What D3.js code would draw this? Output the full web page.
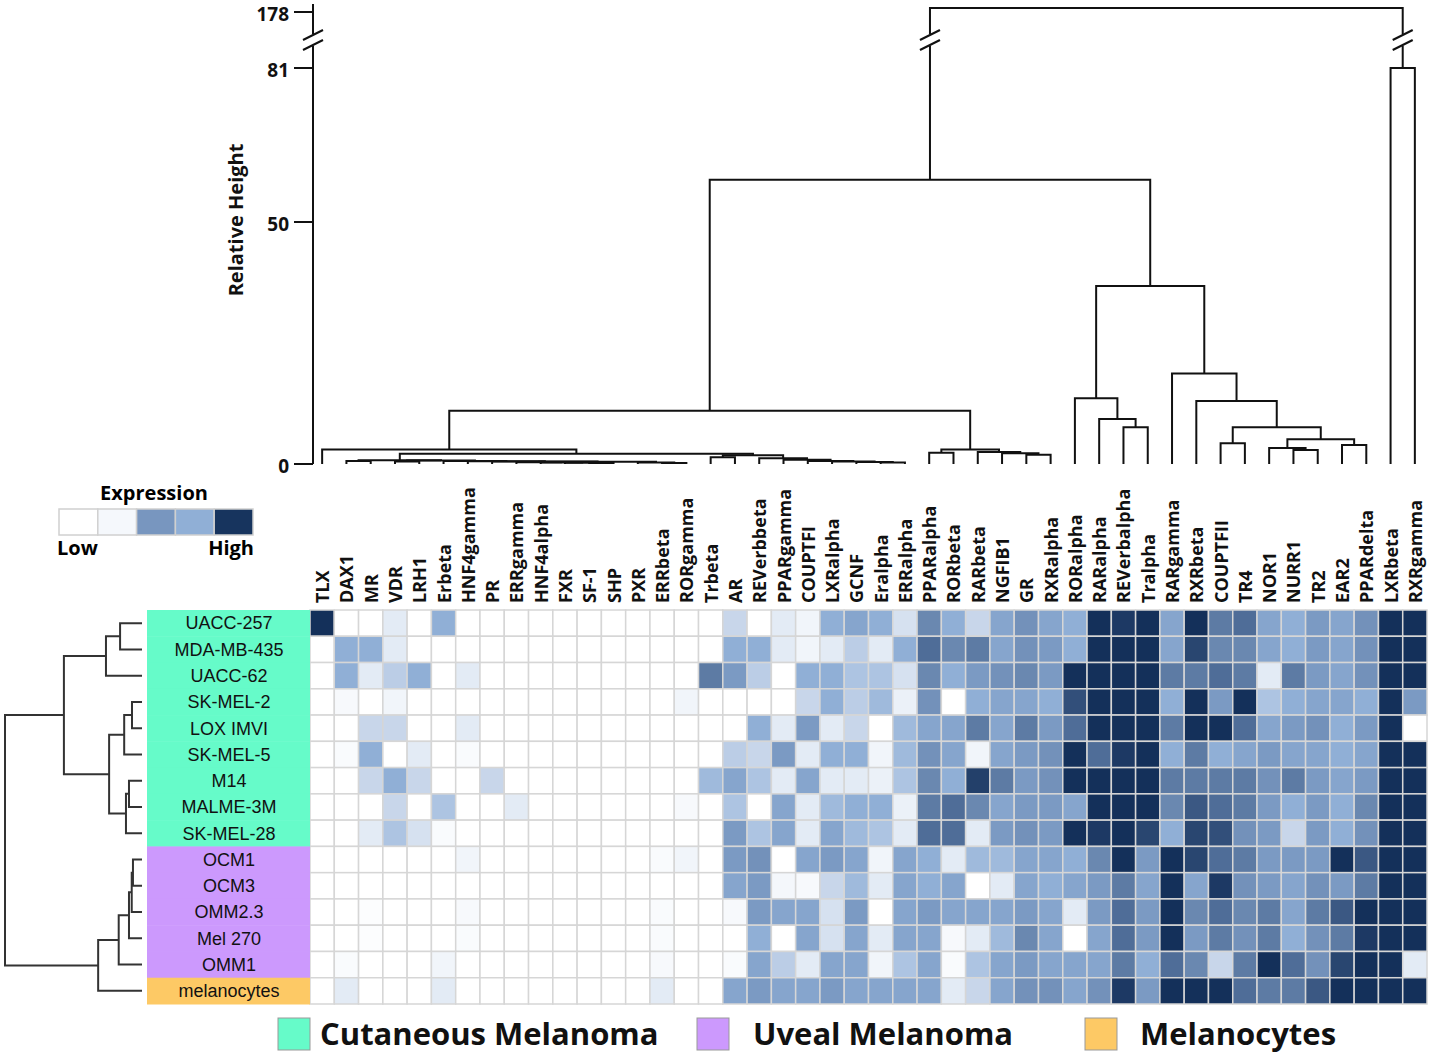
<!DOCTYPE html>
<html>
<head>
<meta charset="utf-8">
<script src="https://cdn.jsdelivr.net/npm/d3@7"></script>
<style>
body { margin: 0; background: #fff; }
svg { display: block; }
</style>
</head>
<body>
<div id="chart"></div>
<script>
// ---- data ----
const rowLabels = ["UACC-257", "MDA-MB-435", "UACC-62", "SK-MEL-2", "LOX IMVI", "SK-MEL-5", "M14",
    "MALME-3M", "SK-MEL-28", "OCM1", "OCM3", "OMM2.3", "Mel 270", "OMM1", "melanocytes"];
const rowGroup = [0, 0, 0, 0, 0, 0, 0, 0, 0, 1, 1, 1, 1, 1, 2];
const groupNames = ["Cutaneous Melanoma", "Uveal Melanoma", "Melanocytes"];
const groupColors = ["#66fbc9", "#cc99fd", "#fdc965"];

const colLabels = ["TLX", "DAX1", "MR", "VDR", "LRH1", "Erbeta", "HNF4gamma", "PR", "ERRgamma", "HNF4alpha",
    "FXR", "SF-1", "SHP", "PXR", "ERRbeta", "RORgamma", "Trbeta", "AR", "REVerbbeta", "PPARgamma", "COUPTFI",
    "LXRalpha", "GCNF", "Eralpha", "ERRalpha", "PPARalpha", "RORbeta", "RARbeta", "NGFIB1", "GR", "RXRalpha",
    "RORalpha", "RARalpha", "REVerbalpha", "Tralpha", "RARgamma", "RXRbeta", "COUPTFII", "TR4", "NOR1",
    "NURR1", "TR2", "EAR2", "PPARdelta", "LXRbeta", "RXRgamma"];

// expression level 0 (low) .. 9 (high), one row per cell line
const expression = [
    [9,0,0,1,0,4,0,0,0,0,0,0,0,0,0,0,0, 2,0,1,0.5,4,4.5,4,1.5,6,4,2,4.5,5.5,4.5, 4, 9,8.7,9,4.5,9,6.5,7,4.5,4,5,4.5,5.5,9,9],
    [0,4,4,1,0,0,0,0,0,0,0,0,0,0,0,0,0, 4,4,1,0.5,1,2.5,1,4,7,6,6.5,4.5,5.5,5, 4, 9,9,9,4.5,8.3,6,6,4.5,4,5,4.5,5.5,9,9],
    [0,4,1,2.5,4,0,1,0,0,0,0,0,0,0,0,0,6.5, 5,2.5,0,4,4,3,3,1.5,6,4,5,5.5,6,5, 9, 9,9,9,6.5,6.5,7,6.5,1,6.5,5,4.5,5.5,9,9],
    [0,0.3,0,0.5,0,0,0,0,0,0,0,0,0,0,0,0.5,0, 0,0,0,2,4,2.5,3.5,0.7,5.5,0,4,4.5,4.5,4, 8, 9,9,9,4,9,5,9,3,4,4.5,4.5,4,9,5],
    [0,0,2,2,0,0,1,0,0,0,0,0,0,0,0,0,0, 0,4,1,5,1,2,0,3.5,4.5,4.5,6.5,4.5,6.5,5, 7, 9,9,9,6.5,9,9,7,4.5,5,5.5,4,5,9,0],
    [0,0.2,4,0,1,0,0.2,0,0,0,0,0,0,0,0,0,0, 2.5,2,5,1,4,4,0.5,3.5,5.5,4.5,0.5,4.5,5,5.5, 9, 7,8.7,9,4,6.5,4,4.5,5,4.5,4.5,4,4.5,9,9],
    [0,0,2,4,2,0,0,2,0,0,0,0,0,0,0,0,3.5, 4.5,3,1,4.5,1,1,0.7,3,6,4,8.5,6.5,5,5.5, 9, 9,9,9,6.5,6.5,6.5,6.5,5.5,6.5,5,4.5,5,9,9],
    [0,0,0,2,0,3,0,0,1,0,0,0,0,0,0,0.3,0, 3,0,4.5,1,3.5,4,4,0.7,6.5,7,6,4.5,5,5, 4.5, 9,9,9,6,7.7,7,6.5,5,4,5,4,6,9,9],
    [0,0,1,3,1.5,0.2,0,0,0,0,0,0,0,0,0,0,0, 5,3,4.5,1,4.5,3.5,3,1,7,7,1,5,5.5,5, 9, 8.7,9,8.3,4,8.3,8,5.5,5,2,5,4,5.5,9,9],
    [0,0,0,0,0,0,0.5,0,0,0,0,0,0,0,0.2,0.5,0, 5,5.5,0,4.5,5,4.5,0.5,4.5,4,1,3.5,3.5,4.5,4.5, 4, 6,9,5,9,8.3,7,6.5,5,5,5,9,7.7,9,9],
    [0,0,0,0,0,0,0,0,0,0,0,0,0,0,0,0,0, 4.5,5,0.4,0.3,2,3.5,1,4.5,4,4.5,0,1,4.5,4, 4.5, 5,6.5,4.5,9,4.5,8.7,5.5,5,4.5,5.5,5,6.5,9,9],
    [0,0,0.1,0,0,0,0.3,0,0,0,0,0,0,0,0.2,0,0, 0.3,5,4.5,4.5,1.5,5,0,4.5,5,4.5,4.5,4.5,5,4.5, 1, 5,7,5,9,6,7,6,6.5,4.5,6.5,7.7,9,9,9],
    [0,0,0.1,0,0,0,0.2,0,0,0,0,0,0,0,0.2,0,0, 0,4,0,4.5,1.5,4.5,1,4.5,4.5,0.3,1,3.5,6,4.5, 0, 4.5,7,5,9,5,6.5,5.5,6.5,4,5.5,6.5,8.7,9,9],
    [0,0.2,0,0,0,0.5,0,0,0,0,0,0,0,0,0.3,0,0, 0.2,4.5,2.5,1,4.5,4.5,0.5,3,4.5,0.2,3,4.5,5,4.5, 4.5, 4.5,6.5,4,7,6,2,6.5,9,7,5.5,8.3,9,9,1],
    [0,1,0,0,0,1,0,0,0,0,0,0,0,0,1,0,0, 4.5,5,4.5,4.5,5,4.5,4.5,4.5,4.5,1,2,4.5,5.5,5.5, 4.5, 5.5,8.7,5,9,9,9,7,6.5,6.5,7.7,9,9,9,9]
];

// column clustering: [left, right, height]; ids >= 46 are earlier merges
const colMerges = [
    [11, 12, 0.2], [10, 46, 0.25], [9, 47, 0.3], [8, 48, 0.35], [14, 15, 0.2], [13, 50, 0.3],
    [49, 51, 0.45], [7, 52, 0.5], [6, 53, 0.55], [5, 54, 0.6], [3, 4, 0.5], [56, 55, 0.7],
    [1, 2, 0.6], [58, 57, 0.8],
    [23, 24, 0.3], [22, 60, 0.4], [21, 61, 0.5], [20, 62, 0.6], [19, 63, 0.9], [18, 64, 1.2],
    [16, 17, 1.4], [66, 65, 1.8], [59, 67, 2.1], [0, 68, 3.0],
    [29, 30, 1.9], [28, 70, 2.2], [27, 71, 2.5], [25, 26, 2.3], [73, 72, 3.0],
    [69, 74, 11.0],
    [33, 34, 7.6], [32, 76, 9.3], [31, 77, 13.6],
    [40, 41, 2.9], [39, 79, 3.3], [42, 43, 3.9], [80, 81, 5.1], [37, 38, 4.3], [83, 82, 7.6],
    [36, 84, 13.0], [35, 85, 18.7], [78, 86, 36.8], [75, 87, 58.5],
    [44, 45, 81], [88, 89, 178]
];
const heightTicks = [0, 50, 81, 178];

// row clustering: [left, right, height]; ids >= 15 are earlier merges
const rowMerges = [
    [0, 1, 0.16], [15, 2, 0.263], [3, 4, 0.073], [17, 5, 0.13], [6, 7, 0.095], [19, 8, 0.117],
    [18, 20, 0.24], [16, 21, 0.57], [9, 10, 0.066], [23, 11, 0.075], [24, 12, 0.095],
    [25, 13, 0.17], [26, 14, 0.32], [22, 27, 1.0]
];

const shadeSteps = [0, 1, 2, 3, 4, 5, 6, 7, 8, 9];
const shadeColors = ["#ffffff", "#e3ebf5", "#c8d6ea", "#adc4e2", "#90afd6", "#7b9ac3", "#6a88b0",
    "#4f6d98", "#324f7a", "#14305a"];
const legendShades = ["#ffffff", "#f5f8fc", "#7896bf", "#90afd6", "#17345e"];

// ---- layout ----
const W = 1431, H = 1057;
const svg = d3.select("#chart").append("svg").attr("width", W).attr("height", H);

const color = d3.scaleLinear().domain(shadeSteps).range(shadeColors);
const x = d3.scaleBand().domain(d3.range(colLabels.length)).range([310, 1427]);
const y = d3.scaleBand().domain(d3.range(rowLabels.length)).range([610, 1004]);
const yH = d3.scaleLinear().domain([0, 50, 81, 178]).range([464, 222, 68, 8]);
const xRow = d3.scaleLinear().domain([0, 1]).range([142, 5]);

// heatmap cells
const cells = [];
expression.forEach((row, r) => row.forEach((v, c) => cells.push({ r, c, v })));
svg.append("g").selectAll("rect")
    .data(cells)
    .enter()
    .append("rect")
    .attr("x", d => x(d.c))
    .attr("y", d => y(d.r))
    .attr("width", x.bandwidth())
    .attr("height", y.bandwidth())
    .style("fill", d => color(d.v))
    .style("stroke", "#d6d6d6")
    .style("stroke-width", 1.5);

// row label boxes
svg.append("g").selectAll("rect")
    .data(rowLabels)
    .enter()
    .append("rect")
    .attr("x", 147)
    .attr("y", (d, i) => y(i))
    .attr("width", 310 - 147)
    .attr("height", y.bandwidth() + 0.5)
    .style("fill", (d, i) => groupColors[rowGroup[i]]);

svg.append("g").selectAll("text")
    .data(rowLabels)
    .enter()
    .append("text")
    .attr("x", 229)
    .attr("y", (d, i) => y(i) + y.bandwidth() / 2)
    .attr("dy", "0.35em")
    .attr("text-anchor", "middle")
    .style("font-family", "'Liberation Sans', Arial, sans-serif")
    .style("font-size", "18px")
    .style("fill", "#111")
    .text(d => d);

// column labels
svg.append("g").selectAll("text")
    .data(colLabels)
    .enter()
    .append("text")
    .attr("transform", (d, i) => `translate(${x(i) + x.bandwidth() / 2 + 7},603) rotate(-90)`)
    .attr("text-anchor", "start")
    .style("font-family", "'Open Sans', sans-serif")
    .style("font-weight", 700)
    .style("font-size", "18px")
    .style("fill", "#111")
    .text(d => d);

// dendrogram helper: returns positions/heights of every node
function layoutLinkage(merges, leafPos) {
    const pos = leafPos.slice();
    const hgt = leafPos.map(() => 0);
    merges.forEach(m => {
        pos.push((pos[m[0]] + pos[m[1]]) / 2);
        hgt.push(m[2]);
    });
    return { pos, hgt };
}

// column dendrogram
const colLayout = layoutLinkage(colMerges, colLabels.map((d, i) => x(i) + x.bandwidth() / 2));
const colTree = svg.append("g")
    .style("fill", "none")
    .style("stroke", "#111")
    .style("stroke-width", 2);
colTree.selectAll("path")
    .data(colMerges)
    .enter()
    .append("path")
    .attr("d", m => {
        const [a, b, h] = m;
        const xa = colLayout.pos[a], xb = colLayout.pos[b];
        return `M${xa},${yH(colLayout.hgt[a])}V${yH(h)}H${xb}V${yH(colLayout.hgt[b])}`;
    });

// axis
const axisX = 313;
const breakY = 40;
const axis = svg.append("g").style("stroke", "#111").style("stroke-width", 2);
axis.append("line").attr("x1", axisX).attr("x2", axisX).attr("y1", yH(178) - 4).attr("y2", yH(0));
axis.selectAll(".tick")
    .data(heightTicks)
    .enter()
    .append("line")
    .attr("x1", axisX - 19)
    .attr("x2", axisX)
    .attr("y1", d => yH(d) + (d === 178 ? 4 : 0))
    .attr("y2", d => yH(d) + (d === 178 ? 4 : 0));
svg.append("g").selectAll("text")
    .data(heightTicks)
    .enter()
    .append("text")
    .attr("x", axisX - 24)
    .attr("y", d => yH(d) + (d === 178 ? 6 : 2))
    .attr("dy", "0.35em")
    .attr("text-anchor", "end")
    .style("font-family", "'Open Sans', sans-serif")
    .style("font-weight", 700)
    .style("font-size", "19px")
    .style("fill", "#111")
    .text(d => d);

// axis breaks on the axis and on the two stems of the top merge
const rootMerge = colMerges[colMerges.length - 1];
const breakXs = [axisX, colLayout.pos[rootMerge[0]], colLayout.pos[rootMerge[1]]];
const brk = svg.append("g");
breakXs.forEach(bx => {
    brk.append("rect")
        .attr("x", bx - 4).attr("y", breakY - 6)
        .attr("width", 8).attr("height", 12)
        .style("fill", "#fff");
    [-5, 5].forEach(off => {
        brk.append("line")
            .attr("x1", bx - 10).attr("y1", breakY + off + 5)
            .attr("x2", bx + 10).attr("y2", breakY + off - 5)
            .style("stroke", "#111")
            .style("stroke-width", 2);
    });
});

svg.append("text")
    .attr("transform", "translate(243,220) rotate(-90)")
    .attr("text-anchor", "middle")
    .style("font-family", "'Open Sans', sans-serif")
    .style("font-weight", 700)
    .style("font-size", "20px")
    .style("fill", "#111")
    .text("Relative Height");

// row dendrogram
const rowLayout = layoutLinkage(rowMerges, rowLabels.map((d, i) => y(i) + y.bandwidth() / 2));
svg.append("g")
    .style("fill", "none")
    .style("stroke", "#333")
    .style("stroke-width", 2)
    .selectAll("path")
    .data(rowMerges)
    .enter()
    .append("path")
    .attr("d", m => {
        const [a, b, h] = m;
        const ya = rowLayout.pos[a], yb = rowLayout.pos[b];
        return `M${xRow(rowLayout.hgt[a])},${ya}H${xRow(h)}V${yb}H${xRow(rowLayout.hgt[b])}`;
    });

// expression legend
const leg = svg.append("g");
const legX = d3.scaleBand().domain(d3.range(legendShades.length)).range([59, 253]);
leg.selectAll("rect")
    .data(legendShades)
    .enter()
    .append("rect")
    .attr("x", (d, i) => legX(i))
    .attr("y", 509)
    .attr("width", legX.bandwidth())
    .attr("height", 26)
    .style("fill", d => d)
    .style("stroke", "#d0d0d0")
    .style("stroke-width", 1.5);
leg.append("text")
    .attr("x", 154).attr("y", 500)
    .attr("text-anchor", "middle")
    .style("font-family", "'Open Sans', sans-serif")
    .style("font-weight", 700)
    .style("font-size", "20px")
    .text("Expression");
leg.append("text")
    .attr("x", 57).attr("y", 555)
    .style("font-family", "'Open Sans', sans-serif")
    .style("font-weight", 700)
    .style("font-size", "20px")
    .text("Low");
leg.append("text")
    .attr("x", 254).attr("y", 555)
    .attr("text-anchor", "end")
    .style("font-family", "'Open Sans', sans-serif")
    .style("font-weight", 700)
    .style("font-size", "20px")
    .text("High");

// group legend
const groupBoxX = [278, 697, 1085];
const groupTextX = [320, 753, 1140];
const gl = svg.append("g").selectAll("g")
    .data(groupNames)
    .enter()
    .append("g");
gl.append("rect")
    .attr("x", (d, i) => groupBoxX[i])
    .attr("y", 1018)
    .attr("width", 32)
    .attr("height", 32)
    .style("fill", (d, i) => groupColors[i])
    .style("stroke", "#999")
    .style("stroke-width", 1);
gl.append("text")
    .attr("x", (d, i) => groupTextX[i])
    .attr("y", 1034)
    .attr("dy", "0.35em")
    .style("font-family", "'Open Sans', sans-serif")
    .style("font-weight", 700)
    .style("font-size", "31px")
    .style("fill", "#111")
    .text(d => d);
</script>
</body>
</html>
